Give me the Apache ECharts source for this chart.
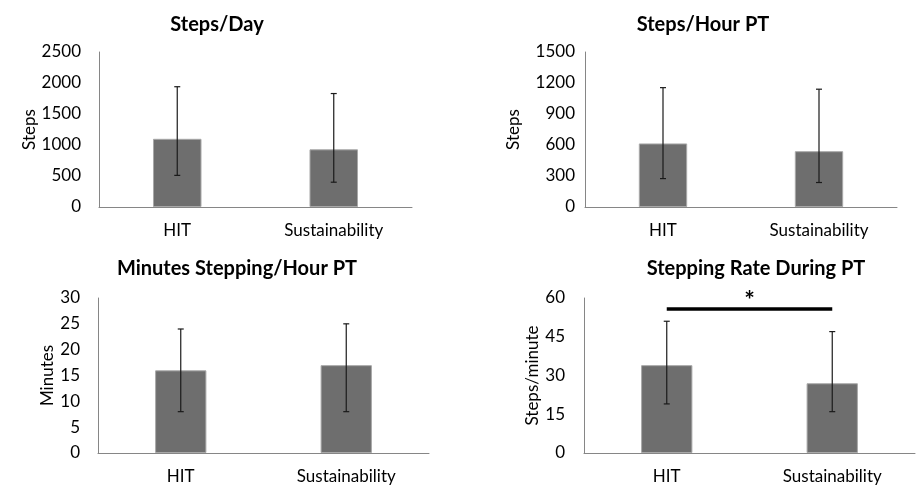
<!DOCTYPE html>
<html>
<head>
<meta charset="utf-8">
<script src="https://cdn.jsdelivr.net/npm/echarts@6/dist/echarts.min.js"></script>
<style>html,body{margin:0;padding:0;background:#fff}#c{width:918px;height:487px}</style>
</head>
<body>
<div id="c"></div>
<script>
const categories = ['HIT', 'Sustainability'];

const titles = ['Steps/Day', 'Steps/Hour PT', 'Minutes Stepping/Hour PT', 'Stepping Rate During PT'];
const yNames = ['Steps', 'Steps', 'Minutes', 'Steps/minute'];

const stepsDayMean = [1100, 930];
const stepsDayLow = [510, 400];
const stepsDayHigh = [1940, 1830];
const stepsDayTicks = [0, 2500, 500];

const stepsHourMean = [615, 540];
const stepsHourLow = [275, 237];
const stepsHourHigh = [1155, 1140];
const stepsHourTicks = [0, 1500, 300];

const minutesMean = [16, 17];
const minutesLow = [8, 8];
const minutesHigh = [24, 25];
const minutesTicks = [0, 30, 5];

const rateMean = [34, 27];
const rateLow = [19, 16];
const rateHigh = [51, 47];
const rateTicks = [0, 60, 15];

const sigLevel = 56;
const sigLabel = '*';

const panels = [
  {mean: stepsDayMean, low: stepsDayLow, high: stepsDayHigh, ticks: stepsDayTicks},
  {mean: stepsHourMean, low: stepsHourLow, high: stepsHourHigh, ticks: stepsHourTicks},
  {mean: minutesMean, low: minutesLow, high: minutesHigh, ticks: minutesTicks},
  {mean: rateMean, low: rateLow, high: rateHigh, ticks: rateTicks}
];

const FONT = 'Lato';
const grids = [
  {left: 99, top: 52, width: 313, height: 155},
  {left: 585, top: 52, width: 312, height: 155},
  {left: 98, top: 298, width: 331, height: 155},
  {left: 584, top: 298, width: 331, height: 155}
];
const titlePos = [[212, 10], [698, 10], [232, 254], [751, 254]];
const nameGaps = [61, 63, 42, 43];
const labelMargins = [18, 10, 18, 19];

const option = {
  backgroundColor: '#fff',
  animation: false,
  title: titles.map((t, i) => ({
    text: t, left: titlePos[i][0], top: titlePos[i][1], textAlign: 'center',
    textStyle: {fontFamily: FONT, fontWeight: 'bold', fontSize: 20, color: '#000'}
  })),
  grid: grids,
  xAxis: grids.map((g, i) => ({
    type: 'category', gridIndex: i, data: categories,
    axisLine: {show: true, lineStyle: {color: '#868686', width: 1}},
    axisTick: {show: false},
    axisLabel: {fontFamily: FONT, fontSize: 17, color: '#000', margin: 15},
    splitLine: {show: false}
  })),
  yAxis: panels.map((p, i) => ({
    type: 'value', gridIndex: i, min: p.ticks[0], max: p.ticks[1], interval: p.ticks[2],
    name: yNames[i], nameLocation: 'middle', nameGap: nameGaps[i], nameRotate: 90,
    nameTextStyle: {fontFamily: FONT, fontSize: 17, color: '#000'},
    axisLine: {show: true, lineStyle: {color: '#868686', width: 1}},
    axisTick: {show: false},
    splitLine: {show: false},
    axisLabel: {fontFamily: FONT, fontSize: 17, color: '#000', margin: labelMargins[i],
      formatter: v => String(v)}
  })),
  series: []
};

panels.forEach((p, i) => {
  const bar = {
    type: 'bar', xAxisIndex: i, yAxisIndex: i, data: p.mean, barWidth: '31%',
    itemStyle: {color: '#6e6e6e', borderColor: '#a8a8a8', borderWidth: 1},
    z: 2
  };
  if (i === 3) {
    bar.markLine = {
      symbol: 'none', silent: true,
      lineStyle: {color: '#000', width: 3.5, type: 'solid'},
      label: {show: true, formatter: sigLabel, position: 'insideMiddleTop', distance: -5,
        fontFamily: FONT, fontSize: 25, fontWeight: 'bold', color: '#000'},
      data: [[{coord: [categories[0], sigLevel]}, {coord: [categories[1], sigLevel]}]]
    };
  }
  option.series.push(bar);
  option.series.push({
    type: 'custom', xAxisIndex: i, yAxisIndex: i, z: 5,
    data: categories.map((c, k) => [k, p.low[k], p.high[k]]),
    renderItem: function (params, api) {
      const x = api.value(0);
      const top = api.coord([x, api.value(2)]);
      const bot = api.coord([x, api.value(1)]);
      const cap = 3;
      const st = {stroke: '#1a1a1a', lineWidth: 1.2};
      return {
        type: 'group',
        children: [
          {type: 'line', shape: {x1: top[0], y1: top[1], x2: bot[0], y2: bot[1]}, style: st},
          {type: 'line', shape: {x1: top[0] - cap, y1: top[1], x2: top[0] + cap, y2: top[1]}, style: st},
          {type: 'line', shape: {x1: bot[0] - cap, y1: bot[1], x2: bot[0] + cap, y2: bot[1]}, style: st}
        ]
      };
    }
  });
});

const chart = echarts.init(document.getElementById('c'), null, {renderer: 'canvas'});
chart.setOption(option);
</script>
</body>
</html>
